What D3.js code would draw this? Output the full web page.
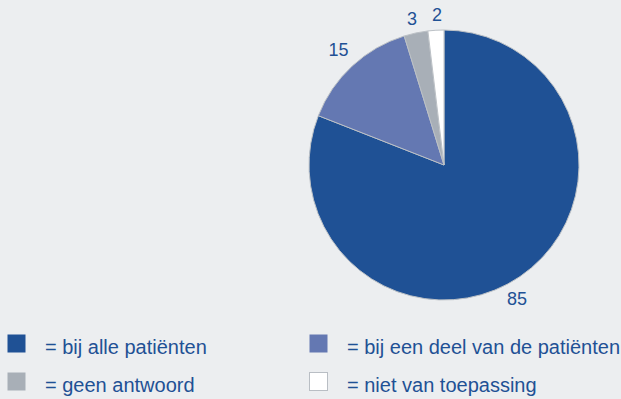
<!DOCTYPE html>
<html>
<head>
<meta charset="utf-8">
<script src="https://cdn.jsdelivr.net/npm/d3@7"></script>
<style>
  html, body { margin: 0; padding: 0; background: #eceef0; }
  svg { display: block; }
  text { font-family: "Liberation Sans", Arial, sans-serif; fill: #1f5195; }
</style>
</head>
<body>
<svg id="chart" width="621" height="399"></svg>
<script>
// Survey answers (counts) per category
const categories = ["bij alle patiënten", "bij een deel van de patiënten", "geen antwoord", "niet van toepassing"];
const values = [85, 15, 3, 2];
const colors = ["#1f5195", "#6478b2", "#a8afb7", "#ffffff"];

const svg = d3.select("#chart");
const W = 621, H = 399;
svg.append("rect").attr("width", W).attr("height", H).attr("fill", "#eceef0");

const cx = 444, cy = 165, r = 135;

// Slices run clockwise from 12 o'clock in category order
const pie = d3.pie().sort(null).value(d => d.v)
  .startAngle(0).endAngle(2 * Math.PI);
const data = categories.map((c, i) => ({ c, v: values[i], col: colors[i] }));
const arcs = pie(data);
const arc = d3.arc().innerRadius(0).outerRadius(r);

const g = svg.append("g").attr("transform", `translate(${cx},${cy})`);
g.selectAll("path").data(arcs).join("path")
  .attr("d", arc)
  .attr("fill", d => d.data.col)
  .attr("stroke", "#bcc1c6")
  .attr("stroke-width", 1);

// Value labels just outside each slice, with small nudges to clear neighbours
const labelOffsets = [
  { r: r + 14, dx: -11, dy: 10.5 },
  { r: r + 20, dx: 0, dy: -1 },
  { r: r + 14, dx: -1, dy: 0 },
  { r: r + 14, dx: 2, dy: -1 }
];
g.selectAll("text.val").data(arcs).join("text")
  .attr("class", "val")
  .attr("x", (d, i) => {
    const a = (d.startAngle + d.endAngle) / 2;
    return Math.sin(a) * labelOffsets[i].r + labelOffsets[i].dx;
  })
  .attr("y", (d, i) => {
    const a = (d.startAngle + d.endAngle) / 2;
    return -Math.cos(a) * labelOffsets[i].r + labelOffsets[i].dy;
  })
  .attr("text-anchor", "middle")
  .attr("dominant-baseline", "central")
  .attr("font-size", 18)
  .text(d => d.data.v);

// Legend: two columns, two rows
const legendPos = [
  { x: 7, y: 334 },
  { x: 309, y: 334 },
  { x: 7, y: 372 },
  { x: 309, y: 372 }
];
const lg = svg.append("g");
data.forEach((d, i) => {
  const p = legendPos[i];
  lg.append("rect")
    .attr("x", p.x + 0.5).attr("y", p.y + 0.5)
    .attr("width", 18).attr("height", 18)
    .attr("fill", d.col)
    .attr("stroke", d.col === "#ffffff" ? "#b9bec4" : "none");
  lg.append("text")
    .attr("x", p.x + 38).attr("y", p.y + 19.5)
    .attr("font-size", 20)
    .text("= " + d.c);
});
</script>
</body>
</html>
